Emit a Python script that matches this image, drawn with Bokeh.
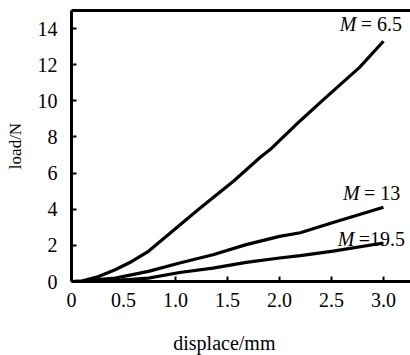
from bokeh.plotting import figure
from bokeh.models import LinearAxis, FixedTicker, Range1d
from bokeh.layouts import column
from bokeh.core.properties import value
from bokeh.embed import file_html
from bokeh.resources import INLINE

# data
x_m65 = [0, 0.1, 0.26, 0.42, 0.58, 0.74, 0.97, 1.22, 1.56, 1.81, 1.91, 2.0, 2.2, 2.42, 2.77, 3.0]
y_m65 = [0, 0.02, 0.28, 0.65, 1.11, 1.67, 2.78, 3.98, 5.56, 6.85, 7.3, 7.8, 8.9, 10.05, 11.85, 13.3]
x_m13 = [0, 0.1, 0.26, 0.42, 0.74, 1.04, 1.36, 1.68, 2.0, 2.2, 2.5, 3.0]
y_m13 = [0, 0.02, 0.1, 0.19, 0.56, 1.02, 1.48, 2.04, 2.5, 2.7, 3.24, 4.11]
x_m195 = [0, 0.1, 0.26, 0.42, 0.74, 1.04, 1.36, 1.68, 2.0, 2.2, 2.5, 3.0]
y_m195 = [0, 0.0, 0.02, 0.05, 0.19, 0.5, 0.74, 1.06, 1.3, 1.43, 1.67, 2.13]

x_ticks = [0, 0.5, 1.0, 1.5, 2.0, 2.5, 3.0]
x_tick_labels = ["0", "0.5", "1.0", "1.5", "2.0", "2.5", "3.0"]
y_ticks = [0, 2, 4, 6, 8, 10, 12, 14]

label_eq = ["= 6.5", "= 13", "=19.5"]
label_x = [2.58, 2.61, 2.56]
label_y = [14.25, 4.9, 2.33]

x_title = "displace/mm"
y_title = "load/N"

FONT = "Liberation Serif, serif"

p = figure(width=410, height=312, output_backend="svg", toolbar_location=None,
           x_range=Range1d(0, 3.26), y_range=Range1d(0, 15),
           x_axis_location=None, y_axis_location=None,
           min_border_left=71, min_border_right=0, min_border_top=10, min_border_bottom=31)
p.outline_line_color = None
p.grid.visible = False
p.background_fill_color = "white"
p.border_fill_color = "white"

def style_axis(ax):
    ax.axis_line_width = 3
    ax.axis_line_color = "black"
    ax.major_tick_in = 5
    ax.major_tick_out = 0
    ax.major_tick_line_width = 2
    ax.minor_tick_line_color = None
    ax.major_label_text_font = FONT
    ax.major_label_text_font_size = "20px"
    ax.major_label_text_color = "black"
    ax.axis_label_text_font = FONT
    ax.axis_label_text_font_size = "17px"
    ax.axis_label_text_font_style = "normal"
    ax.axis_label_text_color = "black"

xa = LinearAxis(ticker=FixedTicker(ticks=x_ticks))
xa.major_label_overrides = {t: l for t, l in zip(x_ticks, x_tick_labels)}
style_axis(xa)
xa.major_label_standoff = 11
p.add_layout(xa, "below")

ya = LinearAxis(ticker=FixedTicker(ticks=y_ticks), axis_label=y_title)
style_axis(ya)
ya.major_label_standoff = 14
ya.axis_label_standoff = 10
p.add_layout(ya, "left")

top = LinearAxis(ticker=FixedTicker(ticks=[]))
top.axis_line_width = 3
top.axis_line_color = "black"
top.major_label_text_font_size = "0px"
top.major_label_standoff = 0
top.major_tick_in = 0
top.major_tick_out = 0
top.minor_tick_line_color = None
p.add_layout(top, "above")

for xs, ys in [(x_m65, y_m65), (x_m13, y_m13), (x_m195, y_m195)]:
    p.line(xs, ys, line_color="black", line_width=3.2, line_join="round")

p.text(x=label_x, y=label_y, text=["M"] * 3, text_font=value(FONT),
       text_font_size="20px", text_font_style="italic", text_color="black",
       text_align="left", text_baseline="alphabetic")
p.text(x=label_x, y=label_y, text=label_eq, text_font=value(FONT),
       text_font_size="20px", text_color="black", x_offset=21,
       text_align="left", text_baseline="alphabetic")

# strip below the plot carrying the x-axis title, sharing the x scale
q = figure(width=410, height=43, output_backend="svg", toolbar_location=None,
           x_range=p.x_range, y_range=Range1d(0, 1),
           x_axis_location=None, y_axis_location=None,
           min_border_left=71, min_border_right=0, min_border_top=0, min_border_bottom=0)
q.outline_line_color = None
q.grid.visible = False
q.text(x=[1.47], y=[0.28], text=[x_title], text_font=value(FONT),
       text_font_size="20px", text_color="black",
       text_align="center", text_baseline="middle")

layout = column(p, q, spacing=0)
open("out.html", "w").write(file_html(layout, INLINE))
